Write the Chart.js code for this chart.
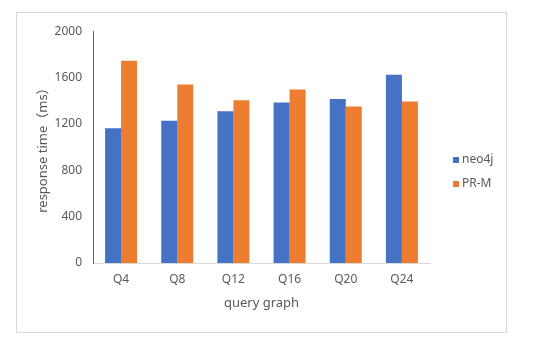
<!DOCTYPE html>
<html>
<head>
<meta charset="utf-8">
<script src="https://cdn.jsdelivr.net/npm/chart.js@4"></script>
<style>
    body { margin: 0; background: #fff; }
    #frame {
        position: absolute; left: 16px; top: 12px;
        width: 489px; height: 319px;
        border: 1px solid #d9d9d9;
    }
</style>
</head>
<body>
<div id="frame"><canvas id="chart" width="489" height="319"></canvas></div>
<script>
// data
const categories = ["Q4", "Q8", "Q12", "Q16", "Q20", "Q24"];
const neo4jTimes = [1162, 1228, 1310, 1385, 1416, 1624];
const prmTimes = [1746, 1541, 1404, 1498, 1350, 1393];
const yTicks = [0, 400, 800, 1200, 1600, 2000];

const FONT = "'Noto Sans', 'Noto Sans CJK SC', sans-serif";
const GRAY = "#595959";

// small legend at the right, like the original
const sideLegend = {
    id: "sideLegend",
    afterDraw(chart) {
        const ctx = chart.ctx;
        const x = chart.chartArea.right + 23;
        const rows = [147, 171];
        ctx.save();
        ctx.font = "12px " + FONT;
        ctx.textBaseline = "middle";
        chart.data.datasets.forEach((ds, i) => {
            ctx.fillStyle = ds.backgroundColor;
            ctx.fillRect(x, rows[i] - 3, 6, 6);
            ctx.fillStyle = GRAY;
            ctx.fillText(ds.label, x + 9, rows[i]);
        });
        ctx.restore();
    }
};

new Chart(document.getElementById("chart"), {
    type: "bar",
    data: {
        labels: categories,
        datasets: [
            { label: "neo4j", data: neo4jTimes, backgroundColor: "#4472C4" },
            { label: "PR-M", data: prmTimes, backgroundColor: "#ED7D31" }
        ]
    },
    options: {
        responsive: false,
        animation: false,
        layout: { padding: { left: 0, top: 16, right: 76, bottom: 0 } },
        datasets: { bar: { categoryPercentage: 0.57, barPercentage: 1 } },
        plugins: { legend: { display: false }, tooltip: { enabled: false } },
        scales: {
            x: {
                grid: { display: false, drawTicks: false },
                border: { color: "#d9d9d9" },
                ticks: { color: GRAY, font: { family: FONT, size: 12 }, padding: 9 },
                title: {
                    display: true, text: "query graph", color: GRAY,
                    font: { family: FONT, size: 13 }, padding: { top: 0, bottom: 21 }
                },
                afterFit(scale) { scale.height = 69; }
            },
            y: {
                min: 0, max: 2000,
                afterBuildTicks(scale) { scale.ticks = yTicks.map(v => ({ value: v })); },
                grid: { display: false, drawTicks: false },
                border: { color: "#5b5ea6" },
                ticks: {
                    color: GRAY, font: { family: FONT, size: 12 }, padding: 11,
                    callback: v => String(v)
                },
                title: {
                    display: true, text: "response time（ms）", color: GRAY,
                    font: { family: FONT, size: 13 }, padding: { top: 18, bottom: 0 }
                },
                afterFit(scale) { scale.width = 76; }
            }
        }
    },
    plugins: [sideLegend]
});
</script>
</body>
</html>
